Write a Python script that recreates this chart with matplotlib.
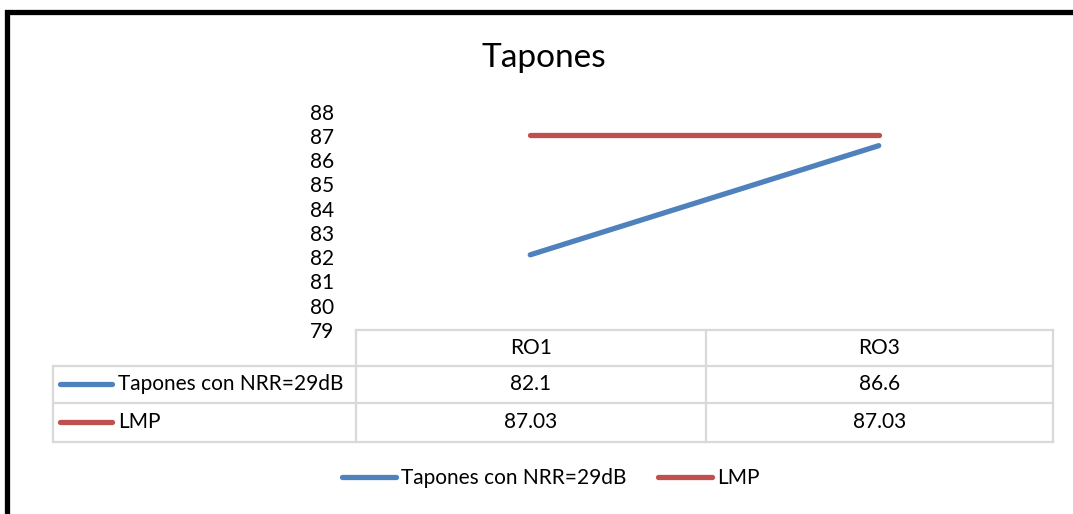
import numpy as np
import matplotlib.pyplot as plt
from matplotlib.lines import Line2D

plt.rcParams['font.family'] = ['Lato', 'DejaVu Sans']

# datos
categorias = ['RO1', 'RO3']
tapones = [82.1, 86.6]
lmp = [87.03, 87.03]
etiquetas_tapones = ['82.1', '86.6']
etiquetas_lmp = ['87.03', '87.03']
series = ['Tapones con NRR=29dB', 'LMP']
colores = ['#4F81BD', '#C0504D']

W, H = 1073, 514
fig = plt.figure(figsize=(W / 100, H / 100), dpi=100)

# area de grafico (en pixeles de la figura)
x0, x1 = 356, 1053
y_top, y_bot = 111.7, 330
ax = fig.add_axes([x0 / W, 1 - y_bot / H, (x1 - x0) / W, (y_bot - y_top) / H])
ax.set_xlim(-0.5, len(categorias) - 0.5)
ax.set_ylim(79, 88)
x = np.arange(len(categorias))
for vals, c in zip([tapones, lmp], colores):
    ax.plot(x, vals, color=c, lw=3.8, solid_capstyle='round')
for s in ax.spines.values():
    s.set_visible(False)
ax.set_xticks([])
ax.set_yticks(range(79, 89))
ax.tick_params(axis='y', length=0, pad=16, labelsize=15)
ax.set_facecolor('none')

# capa de pixeles para tabla, titulo y borde
ov = fig.add_axes([0, 0, 1, 1], zorder=-1)
ov.set_xlim(0, W)
ov.set_ylim(H, 0)
ov.axis('off')

# borde negro
ov.plot([7, 7, W + 5], [H + 5, 12, 12], color='black', lw=3.8, solid_joinstyle='miter')

ov.text(544, 58, 'Tapones', ha='center', va='center', fontsize=24)

# tabla de datos
gris = '#D9D9D9'
filas_y = [329.5, 365.5, 403, 441.5]
col_x = [52.7, 356, 706, 1053]
lw_t = 1.6
ov.plot([col_x[1], col_x[3]], [filas_y[0]] * 2, color=gris, lw=lw_t)
for yy in filas_y[1:]:
    ov.plot([col_x[0], col_x[3]], [yy] * 2, color=gris, lw=lw_t)
ov.plot([col_x[0]] * 2, [filas_y[1], filas_y[3]], color=gris, lw=lw_t)
for xx in col_x[1:]:
    ov.plot([xx] * 2, [filas_y[0], filas_y[3]], color=gris, lw=lw_t)

centros = [(col_x[1] + col_x[2]) / 2, (col_x[2] + col_x[3]) / 2]
for cx, cat in zip(centros, categorias):
    ov.text(cx, (filas_y[0] + filas_y[1]) / 2, cat, ha='center', va='center', fontsize=15)
for i, (nombre, c, labs) in enumerate(zip(series, colores, [etiquetas_tapones, etiquetas_lmp])):
    yc = (filas_y[i + 1] + filas_y[i + 2]) / 2
    ov.plot([60, 112], [yc, yc], color=c, lw=3.8, solid_capstyle='round')
    ov.text(118, yc, nombre, ha='left', va='center', fontsize=15)
    for cx, lab in zip(centros, labs):
        ov.text(cx, yc, lab, ha='center', va='center', fontsize=15)

# leyenda
handles = [Line2D([], [], color=c, lw=3.8, solid_capstyle='round') for c in colores]
fig.legend(handles, series, loc='center', bbox_to_anchor=(551 / W, 1 - 478 / H),
           ncol=2, frameon=False, fontsize=15, handlelength=2.6, handletextpad=0.25,
           columnspacing=1.5)

fig.savefig('out.png', dpi=100)
